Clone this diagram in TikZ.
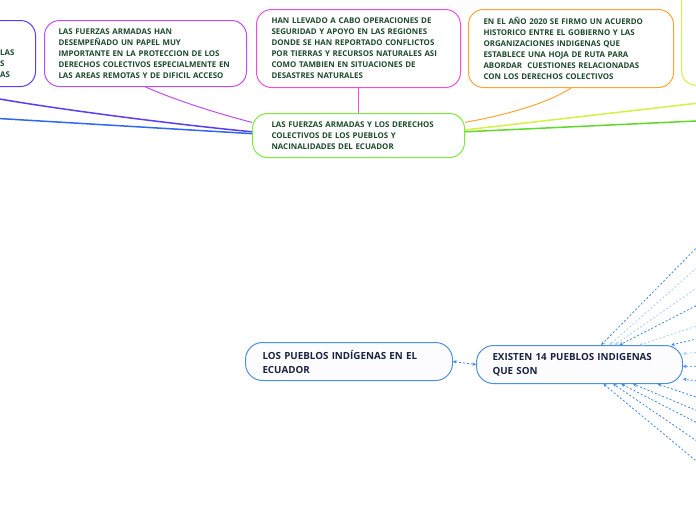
\documentclass[tikz,border=0pt]{standalone}
\usepackage{fontspec}
\setmainfont{Open Sans}
\usepackage{xcolor}
\usetikzlibrary{arrows.meta,positioning}

\definecolor{txtgreen}{HTML}{1D4A2C}
\definecolor{txtnavy}{HTML}{1A2340}
\definecolor{cindigo}{HTML}{5B3DF2}
\definecolor{cblue}{HTML}{2F66F2}
\definecolor{cviolet}{HTML}{BE4EF0}
\definecolor{cpink}{HTML}{EE4FD6}
\definecolor{cgreen}{HTML}{7BEA3E}
\definecolor{corange}{HTML}{FFA332}
\definecolor{cyellow}{HTML}{D6F044}
\definecolor{cgreenline}{HTML}{5FD92A}
\definecolor{bborder}{HTML}{4B92DB}
\definecolor{bdark}{HTML}{3C87E2}
\definecolor{blight}{HTML}{A9CDF3}

\begin{document}
\begin{tikzpicture}[x=1pt, y=-1pt,
  topbox/.style={draw, rounded corners=15pt, line width=1pt, fill=white, anchor=north west, align=left, inner xsep=14pt, inner ysep=0pt, text=txtgreen, font=\fontsize{7.9}{11}\selectfont\bfseries},
  subbox/.style={draw=bborder, rounded corners=17pt, line width=1pt, fill=blue!1, anchor=north west, align=left, inner xsep=16pt, inner ysep=0pt, text=txtnavy, font=\fontsize{9.8}{14}\selectfont\bfseries},
  link/.style={line width=1.5pt},
  ray/.style={line width=0.8pt, dash pattern=on 2pt off 2pt, -{Stealth[length=3.5pt,width=3.5pt]}},
  dbl/.style={line width=0.8pt, dash pattern=on 2pt off 2pt, {Stealth[length=3.5pt,width=3.5pt]}-{Stealth[length=3.5pt,width=3.5pt]}}
]
\useasboundingbox (0,0) rectangle (696,520);
\clip (0,0) rectangle (696,520);

\node[topbox, draw=cindigo, text width=150pt, minimum height=66pt] (box1) at (-143,20) {};
\node[anchor=north west, align=left, inner sep=0pt, text=txtgreen, font=\fontsize{7.9}{11}\selectfont\bfseries] (box1txt) at (0,50) {LAS\\S\\AS};
\node[topbox, draw=cviolet, text width=174pt, minimum height=66pt] (box2) at (44,20) {LAS FUERZAS ARMADAS HAN\\DESEMPEÑADO UN PAPEL MUY\\IMPORTANTE EN LA PROTECCION DE LOS\\DERECHOS COLECTIVOS ESPECIALMENTE EN\\LAS AREAS REMOTAS Y DE DIFICIL ACCESO};
\node[topbox, draw=cpink, text width=174pt, inner xsep=15pt, minimum height=78pt] (box3) at (256,9) {HAN LLEVADO A CABO OPERACIONES DE\\SEGURIDAD Y APOYO EN LAS REGIONES\\DONDE SE HAN REPORTADO CONFLICTOS\\POR TIERRAS Y RECURSOS NATURALES ASI\\COMO TAMBIEN EN SITUACIONES DE\\DESASTRES NATURALES};
\node[topbox, draw=corange, text width=175pt, inner xsep=15pt, minimum height=78pt] (box4) at (468,9) {EN EL AÑO 2020 SE FIRMO UN ACUERDO\\HISTORICO ENTRE EL GOBIERNO Y LAS\\ORGANIZACIONES INDIGENAS QUE\\ESTABLECE UNA HOJA DE RUTA PARA\\ABORDAR \ CUESTIONES RELACIONADAS\\CON LOS DERECHOS COLECTIVOS};
\node[topbox, draw=cyellow, text width=200pt, minimum height=120pt] (box5) at (681,-35) {};
\node[topbox, draw=cgreen, text width=174pt, inner xsep=19pt, minimum height=44pt] (central) at (252,113) {LAS FUERZAS ARMADAS Y LOS DERECHOS\\COLECTIVOS DE LOS PUEBLOS Y\\NACINALIDADES DEL ECUADOR};

\coordinate (lsrc) at (-60,115);
\coordinate (ysrc) at (760,96);
\coordinate (gsrc) at (760,118);
\draw[link, cindigo] (box1.south) .. controls (-30,98) and (150,122) .. (central.178);
\draw[link, cblue] (lsrc) -- (central.179);
\draw[link, cviolet, line width=1pt] (box2.south) .. controls (180,102) and (220,114) .. (central.173);
\draw[link, cpink, line width=1pt] (box3.south) -- (central.north);
\draw[link, corange, line width=1pt] (box4.south) .. controls (545,105) and (500,116) .. (central.7);
\draw[link, cyellow] (central.3) -- (ysrc);
\draw[link, cgreenline] (central.2) -- (gsrc);

\node[subbox, text width=173pt, inner xsep=17pt, minimum height=38pt] (pueblos) at (245,342) {LOS PUEBLOS INDÍGENAS EN EL\\ECUADOR};
\node[subbox, text width=174pt, minimum height=38pt] (existen) at (476,345) {EXISTEN 14 PUEBLOS INDIGENAS\\QUE SON};
\draw[dbl, bdark] (pueblos.east) -- (existen.west);

\foreach \ang/\fx/\fy/\col [count=\i] in {42/760/183/bdark, 33/760/212/blight, 29/760/244/blight, 26/760/273/bdark, 18/760/305/blight, 12.5/760/324/bdark, 6/760/347/blight, 359/760/366/bdark, 352/760/390/bdark, 346/760/419/bdark, 340/760/437/bdark, 335/760/455/bdark, 330/760/484/bdark, 321.6/760/514/bdark}{
  \coordinate (src\i) at (\fx,\fy);
  \draw[ray, \col] (src\i) -- (existen.\ang);
}
\end{tikzpicture}
\end{document}
